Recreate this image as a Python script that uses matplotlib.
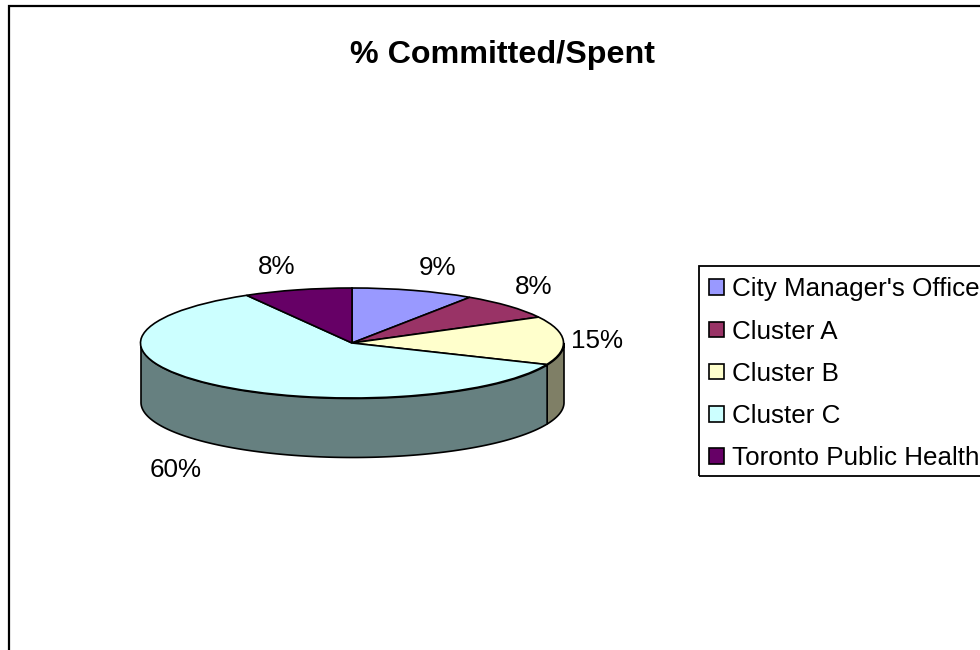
import numpy as np
import matplotlib
matplotlib.use('Agg')
import matplotlib.pyplot as plt
from matplotlib.patches import Rectangle

plt.rcParams['font.family'] = ['Liberation Sans', 'DejaVu Sans']

names = ["City Manager's Office", 'Cluster A', 'Cluster B', 'Cluster C', 'Toronto Public Health']
values = [9.4, 7.8, 14.2, 60.3, 8.3]
pct_labels = ['9%', '8%', '15%', '60%', '8%']
colors = ['#9999FF', '#993366', '#FFFFCC', '#CCFFFF', '#660066']
side_colors = ['#66667F', '#4C1933', '#7F7F66', '#668080', '#330033']

# pie ellipse in pixels
cx, cy, rx, ry = 352, 343, 211.5, 55
depth = 59 / ry
W, H = 980, 650
label_px = [(437, 268), (534, 287), (597, 341), (176, 470), (277, 267)]


def px(x, y):
    return (x - cx) / rx, (cy - y) / ry


fig = plt.figure(figsize=(W / 100, H / 100), dpi=100)
fig.patches.append(Rectangle((9 / W, -0.1), 1.1, 1.1 - 6 / H, transform=fig.transFigure,
                             fill=False, edgecolor='black', linewidth=1.6))
# legend box runs off the right edge
fig.patches.append(Rectangle((699 / W, 1 - 476 / H), 0.5, 210 / H, transform=fig.transFigure,
                             fill=False, edgecolor='black', linewidth=1.3))

ax = fig.add_axes([0, 0, 1, 1])
ax.patch.set_alpha(0)

# side wall, only the front half of the ellipse shows
edges = 90 - np.cumsum([0] + values) * 3.6
for i in range(len(values)):
    t1 = max(edges[i], -180)
    t2 = min(edges[i + 1], 0)
    t1, t2 = min(t1, 0), max(t2, -180)
    if t1 <= t2:
        continue
    t = np.radians(np.linspace(t1, t2, 200))
    ax.fill_between(np.cos(t), np.sin(t), np.sin(t) - depth, facecolor=side_colors[i],
                    edgecolor='black', linewidth=1.2, zorder=1)

wedges, _ = ax.pie(values, startangle=90, counterclock=False, colors=colors, radius=1,
                   wedgeprops={'edgecolor': 'black', 'linewidth': 1.2, 'zorder': 2})
ax.set_aspect('auto')
ax.set_xlim(px(0, 0)[0], px(W, 0)[0])
ax.set_ylim(px(0, H)[1], px(0, 0)[1])
ax.axis('off')

for lab, (x, y) in zip(pct_labels, label_px):
    lx, ly = px(x, y)
    ax.text(lx, ly, lab, fontsize=18.7, ha='center', va='center', color='black')

fig.text(502 / W, 1 - 55 / H, '% Committed/Spent', fontsize=23.2, fontweight='bold',
         ha='center', va='center')

leg = ax.legend(wedges, names, loc='upper left', bbox_to_anchor=(699 / W, 1 - 267 / H),
                bbox_transform=fig.transFigure, fontsize=18.7, frameon=False,
                borderaxespad=0, borderpad=0.4,
                labelspacing=0.7, handlelength=0.55, handleheight=0.55, handletextpad=0.33)

fig.savefig('out.png', dpi=100)
